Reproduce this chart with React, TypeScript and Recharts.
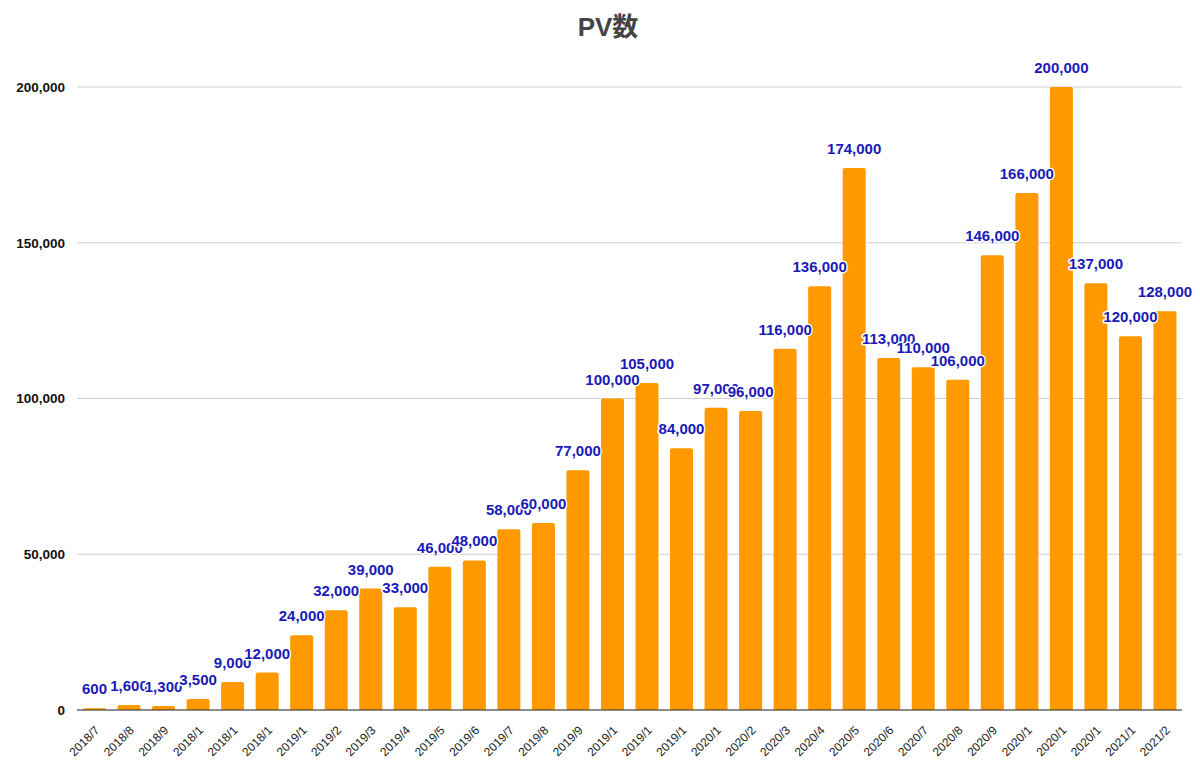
import { BarChart, Bar, XAxis, YAxis, CartesianGrid, LabelList } from "recharts"

const months = [
  "2018/7", "2018/8", "2018/9", "2018/1", "2018/1", "2018/1",
  "2019/1", "2019/2", "2019/3", "2019/4", "2019/5", "2019/6", "2019/7", "2019/8", "2019/9",
  "2019/1", "2019/1", "2019/1",
  "2020/1", "2020/2", "2020/3", "2020/4", "2020/5", "2020/6", "2020/7", "2020/8", "2020/9",
  "2020/1", "2020/1", "2020/1",
  "2021/1", "2021/2",
]

const pv = [
  600, 1600, 1300, 3500, 9000, 12000,
  24000, 32000, 39000, 33000, 46000, 48000, 58000, 60000, 77000,
  100000, 105000, 84000,
  97000, 96000, 116000, 136000, 174000, 113000, 110000, 106000, 146000,
  166000, 200000, 137000,
  120000, 128000,
]

const yTicks = [0, 50000, 100000, 150000, 200000]

const data = months.map((m, i) => ({ month: m, pv: pv[i] }))

const FONT = "'Liberation Sans', Arial, sans-serif"

const fmt = (v: number) => v.toLocaleString("en-US")

const XTick = (props: any) => {
  const { x, y, payload } = props
  return (
    <text
      x={x + 6}
      y={y + 13}
      transform={`rotate(-45, ${x + 6}, ${y + 13})`}
      textAnchor="end"
      fontSize={12}
      fontFamily={FONT}
      fill="#222"
    >
      {payload.value}
    </text>
  )
}

const ValueLabel = (props: any) => {
  const { x, y, width, value } = props
  return (
    <text
      x={x + width / 2}
      y={y - 14}
      textAnchor="middle"
      fontSize={15}
      fontWeight="bold"
      fontFamily={FONT}
      fill="#1a1ab8"
      stroke="#fff"
      strokeWidth={3}
      paintOrder="stroke"
      strokeLinejoin="round"
    >
      {fmt(value)}
    </text>
  )
}

export default function App() {
  return (
    <div style={{ position: "absolute", left: 0, top: 0, width: 1200, height: 767, background: "#fff" }}>
      <div
        style={{
          position: "absolute",
          left: 0,
          top: 6,
          width: 1216,
          textAlign: "center",
          fontFamily: "'Liberation Sans', 'Noto Sans CJK JP', sans-serif",
          fontWeight: "bold",
          fontSize: 26,
          color: "#444",
        }}
      >
        PV数
      </div>
      <BarChart
        width={1200}
        height={767}
        data={data}
        margin={{ top: 87, right: 18, bottom: 0, left: 0 }}
      >
        <CartesianGrid vertical={false} stroke="#d0d0d0" />
        <XAxis
          dataKey="month"
          interval={0}
          height={57}
          tick={<XTick />}
          tickLine={false}
          axisLine={{ stroke: "#333" }}
        />
        <YAxis
          width={77}
          domain={[0, 200000]}
          ticks={yTicks}
          tickFormatter={fmt}
          axisLine={false}
          tickLine={false}
          tickMargin={6}
          tick={{ fontSize: 13.5, fontFamily: FONT, fontWeight: "bold", fill: "#111" }}
        />
        <Bar dataKey="pv" fill="#ff9900" barSize={23} radius={[2, 2, 0, 0]} isAnimationActive={false}>
          <LabelList dataKey="pv" content={<ValueLabel />} />
        </Bar>
      </BarChart>
    </div>
  )
}
